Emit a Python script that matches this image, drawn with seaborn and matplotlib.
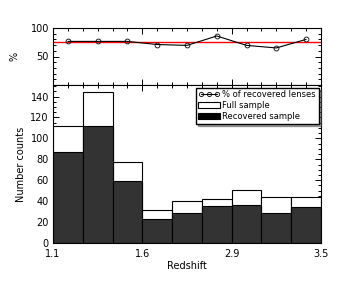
import numpy as np
import pandas as pd
import matplotlib
matplotlib.use("Agg")
import matplotlib.pyplot as plt
from matplotlib.lines import Line2D
from matplotlib.patches import Patch
from matplotlib.ticker import MultipleLocator
import seaborn as sns

# --- data ---
bins = list(range(9))
full_sample = [112, 144, 77, 31.5, 40.5, 42, 51, 43.5, 43.5]
recovered_sample = [87, 111.5, 59.5, 23, 29, 35.5, 36, 29, 34.5]
pct_recovered = [76.5, 76.5, 76.5, 71, 69.5, 86, 69.5, 65, 80]
mean_pct = 75
edge_ticks = [-0.5, 2.5, 5.5, 8.5]
edge_labels = ["1.1", "1.6", "2.9", "3.5"]

sns.set_style("ticks")
plt.rcParams.update({
    "font.family": ["DejaVu Sans"], "font.size": 7,
    "axes.linewidth": 0.8, "xtick.direction": "in", "ytick.direction": "in",
    "text.color": "black", "axes.labelcolor": "black",
    "xtick.color": "black", "ytick.color": "black", "axes.edgecolor": "black",
})

df = pd.DataFrame({"bin": bins, "full": full_sample, "rec": recovered_sample, "pct": pct_recovered})

fig = plt.figure(figsize=(3.57, 2.85), dpi=100)
ax_top = fig.add_axes([53 / 357, 1 - 85 / 285, 268 / 357, 57 / 285])
ax_bot = fig.add_axes([53 / 357, 1 - 243 / 285, 268 / 357, 158 / 285])

# top panel: recovered fraction
ax_top.axhline(mean_pct, color="red", lw=1.0, zorder=1)
sns.lineplot(data=df, x="bin", y="pct", ax=ax_top, color="black", lw=0.8,
             marker="o", markersize=3.5, markerfacecolor="none", markeredgecolor="black",
             markeredgewidth=0.6, zorder=2)
ax_top.set_ylim(0, 100)
ax_top.set_xlim(-0.5, 8.5)
ax_top.yaxis.set_minor_locator(MultipleLocator(10))
ax_top.set_yticks([50, 100])
ax_top.set_ylabel("%", labelpad=8)
ax_top.set_xlabel("")
ax_top.set_xticks(edge_ticks)
ax_top.set_xticklabels([])
ax_top.xaxis.set_minor_locator(MultipleLocator(0.5))

# bottom panel: histograms
sns.barplot(data=df, x="bin", y="full", ax=ax_bot, color="white", edgecolor="black",
            linewidth=0.8, width=1.0, saturation=1)
sns.barplot(data=df, x="bin", y="rec", ax=ax_bot, color="#333333", edgecolor="black",
            linewidth=0.8, width=1.0, saturation=1)
ax_bot.set_xlim(-0.5, 8.5)
ax_bot.set_ylim(0, 151)
ax_bot.yaxis.set_major_locator(MultipleLocator(20))
ax_bot.yaxis.set_minor_locator(MultipleLocator(5))
ax_bot.set_xticks(edge_ticks)
ax_bot.set_xticklabels(edge_labels)
ax_bot.xaxis.set_minor_locator(MultipleLocator(0.5))
ax_bot.set_xlabel("Redshift", labelpad=2)
ax_bot.set_ylabel("Number counts", labelpad=3)

for ax in (ax_top, ax_bot):
    ax.tick_params(which="both", top=True, right=True, direction="in", width=0.7)
    ax.tick_params(which="major", length=4)
    ax.tick_params(which="minor", length=2)
    ax.tick_params(axis="x", which="major", pad=4)
    ax.tick_params(axis="y", which="major", pad=3)

handles = [
    Line2D([0], [0], color="black", lw=0.8, marker="o", markersize=3,
           markerfacecolor="none", markeredgewidth=0.6),
    Patch(facecolor="white", edgecolor="black", linewidth=0.8),
    Patch(facecolor="black", edgecolor="black", linewidth=0.8),
]
ax_bot.legend(handles, ["% of recovered lenses", "Full sample", "Recovered sample"],
              loc="upper right", numpoints=3, fontsize=6, frameon=True, fancybox=False,
              shadow=True, edgecolor="black", framealpha=1, borderpad=0.3,
              handlelength=2.6, handletextpad=0.3, labelspacing=0.25,
              borderaxespad=0.3)

fig.savefig("out.png", dpi=100)
